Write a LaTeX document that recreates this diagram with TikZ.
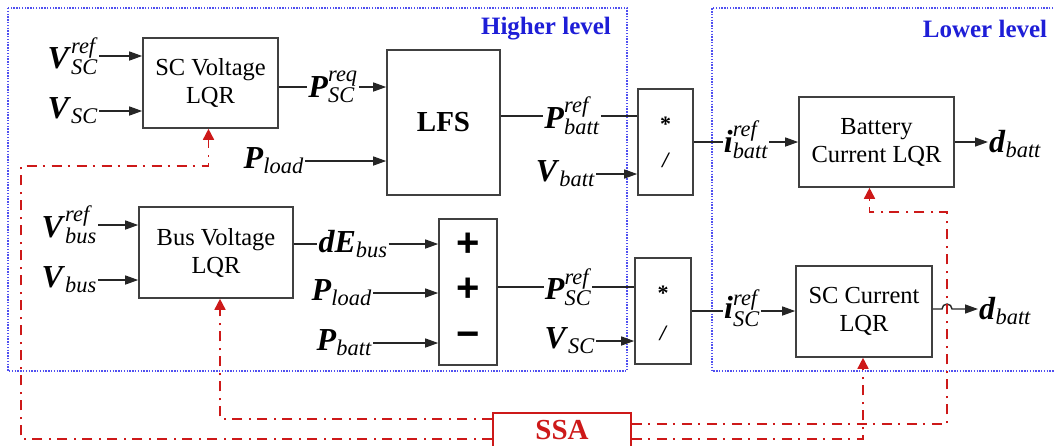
\RequirePackage{fix-cm}
\documentclass[tikz,border=0pt]{standalone}
\usepackage{amstext}
\usepackage{fontspec}
\setmainfont{Liberation Serif}
\newfontfamily\signfont{Liberation Sans}
\usetikzlibrary{arrows.meta,calc}
\definecolor{lvlblue}{RGB}{80,80,240}
\definecolor{txtblue}{RGB}{30,30,215}
\definecolor{ssared}{RGB}{205,25,25}
\newcommand\sigsr[3]{\ensuremath{\textbf{\textit{#1}}_{\textit{#2}}^{\textit{#3}}}}
\newcommand\sigs[2]{\ensuremath{\textbf{\textit{#1}}_{\textit{#2}}}}
\begin{document}
\begin{tikzpicture}[x=1pt,y=-1pt,
  blk/.style={draw=black!75, line width=1.6pt, fill=white, inner sep=0pt, align=center,
    font=\rmfamily\fontsize{24.5}{28}\selectfont},
  lbl/.style={inner sep=1pt, font=\fontsize{32}{34}\selectfont},
  sgn/.style={inner sep=0pt, font=\fontsize{40}{42}\selectfont\signfont\bfseries},
  mop/.style={inner sep=0pt, font=\fontsize{22}{24}\selectfont\bfseries},
  ln/.style={line width=1.4pt, draw=black!85},
  arr/.style={ln, -{Triangle[length=13pt,width=9pt]}},
  lvl/.style={draw=lvlblue, line width=1.5pt, dash pattern=on 1.4pt off 1.4pt},
  lvltxt/.style={text=txtblue, font=\fontsize{25}{28}\selectfont\bfseries, inner sep=0pt},
  ssal/.style={draw=ssared, line width=1.6pt, dash pattern=on 10pt off 6pt on 2pt off 7pt},
  ssaarr/.style={ssal, -{Triangle[length=11pt,width=11pt,fill=ssared]}}
]
\useasboundingbox (0,0) rectangle (1054,445);

% level frames
\draw[lvl] (8,8) rectangle (627,371);
\draw[lvl] (1070,8) -- (712,8) -- (712,371) -- (1070,371);
\node[lvltxt] (hl) at (546,29) {Higher level};
\node[lvltxt] (ll) at (985,29) {Lower level};

% blocks
\node[blk, minimum width=135pt, minimum height=90pt] (scv) at (210.5,83) {SC Voltage\\LQR};
\node[blk, minimum width=113pt, minimum height=145pt, font=\rmfamily\fontsize{29}{31}\selectfont\bfseries] (lfs) at (443.5,122.5) {LFS};
\node[blk, minimum width=154pt, minimum height=91pt] (bus) at (216,252.5) {Bus Voltage\\LQR};
\node[blk, minimum width=58pt, minimum height=146pt] (sum) at (468,292) {};
\node[blk, minimum width=55pt, minimum height=106pt] (mul1) at (665.5,142) {};
\node[blk, minimum width=56pt, minimum height=106pt] (mul2) at (663,311) {};
\node[blk, minimum width=155pt, minimum height=90pt] (bat) at (876.5,142) {Battery\\Current LQR};
\node[blk, minimum width=136pt, minimum height=91pt] (scc) at (864,311.5) {SC Current\\LQR};
\node[blk, draw=ssared, minimum width=138pt, minimum height=34pt, text=ssared,
  font=\rmfamily\fontsize{29}{31}\selectfont\bfseries] (ssa) at (562,430) {SSA};

% signs inside sum and multiplier blocks
\node[sgn] (s1) at ($(sum.center)+(0,-47)$) {+};
\node[sgn] (s2) at ($(sum.center)+(0,-2)$) {+};
\node[sgn] (s3) at ($(sum.center)+(0,48)$) {−};
\node[mop] (m1a) at ($(mul1.center)+(0,-18)$) {*};
\node[mop] (m1b) at ($(mul1.center)+(0,18)$) {\itshape /};
\node[mop] (m2a) at ($(mul2.center)+(0,-18)$) {*};
\node[mop] (m2b) at ($(mul2.center)+(0,22)$) {\itshape /};

% labels
\node[lbl, anchor=east] (vscref) at (99,56) {\sigsr{V}{SC}{ref}};
\node[lbl, anchor=east] (vsc) at (99,111) {\sigs{V}{SC}};
\node[lbl] (pscreq) at (333,87) {\sigsr{P}{SC}{req}};
\node[lbl, anchor=east] (pload1) at (305,161) {\sigs{P}{load}};
\node[lbl] (pbattref) at (572,116) {\sigsr{P}{batt}{ref}};
\node[lbl, anchor=east] (vbatt) at (596,174) {\sigs{V}{batt}};
\node[lbl] (ibattref) at (746,140) {\sigsr{i}{batt}{ref}};
\node[lbl, anchor=west] (dbatt1) at (988,144) {\sigs{d}{batt}};
\node[lbl, anchor=east] (vbusref) at (98,225) {\sigsr{V}{bus}{ref}};
\node[lbl, anchor=east] (vbus) at (98,280) {\sigs{V}{bus}};
\node[lbl] (debus) at (353,244) {\sigs{dE}{bus}};
\node[lbl, anchor=east] (pload2) at (373,293) {\sigs{P}{load}};
\node[lbl, anchor=east] (pbatt) at (373,343) {\sigs{P}{batt}};
\node[lbl] (pscref) at (568,287) {\sigsr{P}{SC}{ref}};
\node[lbl, anchor=east] (vsc2) at (596,341) {\sigs{V}{SC}};
\node[lbl] (iscref) at (742,308) {\sigsr{i}{SC}{ref}};
\node[lbl, anchor=west] (dbatt2) at (978,311) {\sigs{d}{batt}};

% signal connectors
\draw[arr] (vscref.east) -- (scv.west |- vscref.east);
\draw[arr] (vsc.east) -- (scv.west |- vsc.east);
\draw[ln] (scv.east |- pscreq.west) -- (pscreq.west);
\draw[arr] (pscreq.east) -- (lfs.west |- pscreq.east);
\draw[arr] (pload1.east) -- (lfs.west |- pload1.east);
\draw[ln] (lfs.east |- pbattref.west) -- (pbattref.west);
\draw[ln] (pbattref.east) -- (mul1.west |- pbattref.east);
\draw[arr] (vbatt.east) -- (mul1.west |- vbatt.east);
\draw[ln] (mul1.east) -- (ibattref.west |- mul1.east);
\draw[arr] (ibattref.east |- mul1.east) -- (bat.west |- mul1.east);
\draw[arr] (bat.east) -- (dbatt1.west |- bat.east);

\draw[arr] (vbusref.east) -- (bus.west |- vbusref.east);
\draw[arr] (vbus.east) -- (bus.west |- vbus.east);
\draw[ln] (bus.east |- debus.west) -- (debus.west);
\draw[arr] (debus.east) -- (sum.west |- debus.east);
\draw[arr] (pload2.east) -- (sum.west |- pload2.east);
\draw[arr] (pbatt.east) -- (sum.west |- pbatt.east);
\draw[ln] (sum.east |- pscref.west) -- (pscref.west);
\draw[ln] (pscref.east) -- (mul2.west |- pscref.east);
\draw[arr] (vsc2.east) -- (mul2.west |- vsc2.east);
\draw[ln] (mul2.east) -- (iscref.west |- mul2.east);
\draw[arr] (iscref.east |- mul2.east) -- (scc.west |- mul2.east);
\coordinate (hop) at (947,309);
\draw[arr] (scc.east |- hop) -- ($(hop)+(-5,0)$) arc (180:360:5) -- (dbatt2.west |- hop);

% SSA feedback connectors
\coordinate (lc) at (21,166);
\coordinate (rc) at (947,212);
\draw[ssaarr] ($(ssa.north west)+(0,7)$) -| ($(bus.south)+(4,0)$);
\draw[ssaarr] ($(ssa.north west)+(0,27)$) -| (lc) -| ($(scv.south)+(-2,0)$);
\draw[ssaarr] ($(ssa.north east)+(0,12)$) -| (rc) -| ($(bat.south)+(-7,0)$);
\draw[ssaarr] ($(ssa.north east)+(0,27)$) -| ($(scc.south)+(-1,0)$);
\end{tikzpicture}
\end{document}
